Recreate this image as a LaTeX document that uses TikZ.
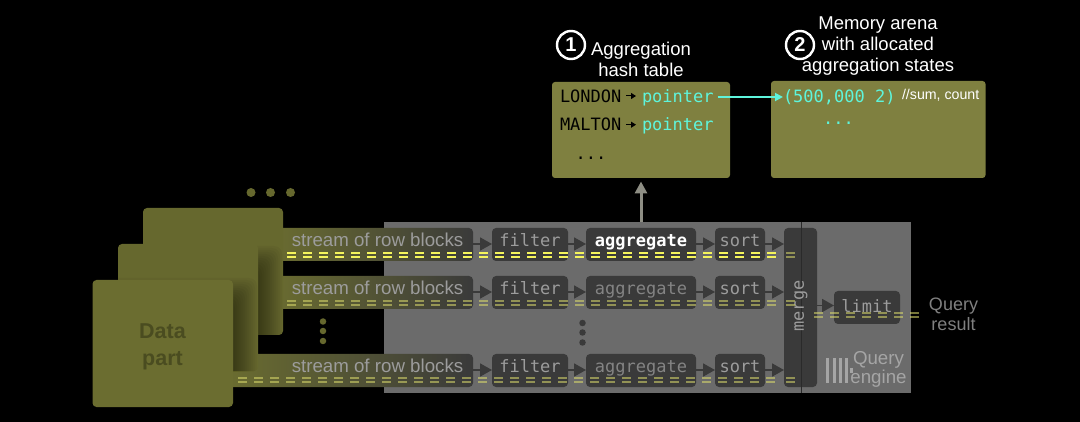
\documentclass[tikz,border=0pt]{standalone}
\usepackage{fontspec}
\setmainfont{Liberation Sans}
\newfontfamily\monof{DejaVu Sans Mono}
\usetikzlibrary{arrows.meta}
\definecolor{olivea}{HTML}{66682E}
\definecolor{oliveb}{HTML}{6B6D30}
\definecolor{olivec}{HTML}{7F8040}
\definecolor{datat}{HTML}{4A4C20}
\definecolor{panelc}{HTML}{6B6B6B}
\definecolor{boxc}{HTML}{3A3A3A}
\definecolor{cyanc}{HTML}{5EF5DC}
\definecolor{dimt}{HTML}{9C9C9C}
\definecolor{dimu}{HTML}{848484}
\definecolor{yelb}{HTML}{F4F45C}
\definecolor{yeld}{HTML}{DCDC6C}
\definecolor{logoc}{HTML}{A5A5A5}
\definecolor{upar}{HTML}{8E8E84}
\definecolor{seamc}{HTML}{2A2A2A}
\newcommand{\fs}[1]{\fontsize{#1}{#1}\selectfont}
\newcommand{\up}[1]{\raisebox{2.5pt}[\height][\depth]{\vphantom{Ag}#1}}
\tikzset{
  every node/.style={inner sep=0pt,outer sep=0pt},
  card/.style={rounded corners=4pt,minimum width=140pt,minimum height=127pt,fill=olivea},
  ycard/.style={rounded corners=3pt,fill=olivec},
  opbox/.style={rounded corners=4pt,fill=boxc,minimum height=33pt,text=dimt,font=\monof\fs{17}},
  band/.style={rounded corners=4pt,minimum height=33pt,left color=oliveb,middle color=boxc!80!olivea,right color=boxc,text=dimt,font=\fs{18.7}},
  flow/.style={draw=boxc,line width=1.8pt,-{Triangle[length=12pt,width=13pt]}},
  dashb/.style={draw=yelb,line width=2pt,dash pattern=on 9pt off 7pt},
  dashd/.style={draw=yeld,opacity=.55,line width=2pt,dash pattern=on 9pt off 7pt},
  head/.style={text=white,font=\fs{18.5},align=center},
  tmono/.style={font=\monof\fs{17}},
  numc/.style={circle,draw=white,line width=2.4pt,minimum size=28pt,text=white,font=\bfseries\fs{20}},
  ptdot/.style={circle,minimum size=9pt,fill=olivea},
  vdot/.style={circle,minimum size=6.5pt,fill=olivea},
  pdot/.style={circle,minimum size=6.5pt,fill=boxc},
  enbar/.style={fill=logoc,minimum width=3pt,minimum height=25pt},
  tinyarrow/.style={draw=black,line width=1pt,-{Triangle[length=5pt,width=6pt]},shorten <=5pt,shorten >=6pt},
  softshade/.style={black,opacity=.04,rounded corners=8pt},
}
\begin{document}
\begin{tikzpicture}[x=1pt,y=-1pt]
\useasboundingbox[fill=black] (0,0) rectangle (1080,422);
% three dots
\node[ptdot] (d1) at (251,192.5) {};
\node[ptdot] (d2) at (270.5,192.5) {};
\node[ptdot] (d3) at (290.5,192.5) {};
% panel
\node[fill=panelc,minimum width=527pt,minimum height=171pt] (panel) at (647.5,307.5) {};
\draw[draw=black!40!panelc,line width=0.5pt] (panel.north) ++(153.5,0) coordinate (lt) -- (lt|-panel.south);
% bands
\node[band,minimum width=203pt] (s1) at (371.5,244.5) {\hspace*{12pt}\up{stream of row blocks}};
\node[band,minimum width=203pt] (s2) at (371.5,292.5) {\hspace*{12pt}\up{stream of row blocks}};
\node[band,minimum width=248pt] (s3) at (349,370.5) {\hspace*{57pt}\up{stream of row blocks}};
% back card
\node[card] (cardc) at (213,271.5) {};
% soft shadow of the middle card on the back card
\begin{scope}
\clip[rounded corners=4pt] (143,208) rectangle (283,335);
\foreach \i in {1,...,12}{
  \fill[softshade] (90,{270-2*\i}) rectangle ({258+2*\i},{375+\i});
}
\end{scope}
% middle card
\node[card] (cardb) at (188,307.5) {};
% soft shadow of the front card on the middle card
\begin{scope}
\clip[rounded corners=4pt] (118,244) rectangle (258,371);
\foreach \i in {1,...,12}{
  \fill[softshade] (65,{302-2*\i}) rectangle ({233+2*\i},{410+\i});
}
\end{scope}
% front card
\node[card,fill=oliveb,minimum width=140.5pt] (carda) at (162.75,343.5) {};
\node[align=center,text=datat,font=\bfseries\fs{21.5}] (datat) at (162.5,346.5) {Data\\[5.5pt]part};
% rows
\foreach \nm/\yy in {a/244.5,b/292.5,c/370.5}{
  \node[opbox,minimum width=76pt] (f\nm) at (530,\yy) {\up{filter}};
  \node[opbox,minimum width=50pt] (o\nm) at (740,\yy) {\up{sort}};
}
\node[opbox,minimum width=110pt,text=white,font=\monof\bfseries\fs{17}] (ga) at (641,244.5) {\up{aggregate}};
\node[opbox,minimum width=110pt,text=dimu] (gb) at (641,292.5) {\up{aggregate}};
\node[opbox,minimum width=110pt,text=dimu] (gc) at (641,370.5) {\up{aggregate}};
\node[rounded corners=4pt,fill=boxc,minimum width=33pt,minimum height=159pt] (merge) at (800.5,307.5) {};
\draw[draw=seamc,line width=0.6pt] (lt) -- (lt|-panel.south);
\node[opbox,minimum width=66pt,minimum height=33pt] (limit) at (867,307.5) {\vphantom{Ag}limit};
\node[rotate=90,text=dimt,font=\monof\fs{17}] (mtxt) at (801,306) {merge};
% flows
\foreach \nm/\yy/\sn in {a/244/s1,b/292/s2,c/370/s3}{
  \draw[flow] (\sn.east|-0,\yy) -- (f\nm.west|-0,\yy);
  \draw[flow] (f\nm.east|-0,\yy) -- (g\nm.west|-0,\yy);
  \draw[flow] (g\nm.east|-0,\yy) -- (o\nm.west|-0,\yy);
  \draw[flow] (o\nm.east|-0,\yy) -- (merge.west|-0,\yy);
}
\draw[flow] (merge.east|-0,305.5) -- (limit.west|-0,305.5);
% dashes
\foreach \yy in {253,257}{
  \draw[dashb] (287,\yy) -- (782,\yy);
  \draw[dashd] (786,\yy) -- (795,\yy);}
\foreach \yy in {301,305}{
  \draw[dashd] (287,\yy) -- (782,\yy);
  \draw[dashd] (786,\yy) -- (795,\yy);}
\foreach \yy in {378,382}{
  \draw[dashd] (238,\yy) -- (782,\yy);
  \draw[dashd] (786,\yy) -- (795,\yy);}
\foreach \yy in {313,317}{\draw[dashd] (merge.east|-0,\yy) ++(-3,0) -- (921,\yy);}
% vertical dots
\node[vdot] (v1) at (323,321.5) {};
\node[vdot] (v2) at (323,331) {};
\node[vdot] (v3) at (323,341) {};
\node[pdot] (p1) at (582.5,323) {};
\node[pdot] (p2) at (582.5,332.5) {};
\node[pdot] (p3) at (582.5,342.5) {};
% engine logo
\node[enbar] (b1) at (827.5,370.5) {};
\node[enbar] (b2) at (834,370.5) {};
\node[enbar] (b3) at (840.5,370.5) {};
\node[enbar] (b4) at (846.5,370.5) {};
\node[enbar,minimum height=5pt] (b5) at (851.5,370.5) {};
\node[text=logoc,font=\fs{18.7}] (qe1) at (878.5,360) {Query};
\node[text=logoc,font=\fs{18.7}] (qe2) at (878.5,378.5) {engine};
% result
\node[text=black!50!white,align=center,font=\fs{18}] (res) at (953.5,314) {Query\\[2pt]result};
% top cards
\node[ycard,minimum width=178pt,minimum height=96pt] (hash) at (641,130) {};
\node[ycard,minimum width=214.5pt,minimum height=97pt] (arena) at (878.25,129.5) {};
\draw[draw=upar,line width=3pt,-{Triangle[length=12pt,width=12pt]}] (ga.north|-panel.north) -- (ga.north|-0,181.5);
% heads
\node[numc] (n1) at (571,45) {1};
\node[numc] (n2) at (800,45) {2};
\node[head] (h1) at (641,59.5) {Aggregation\\[2.5pt]hash table};
\node[head] (h2) at (878,46) {Memory arena\\[2.5pt]with allocated\\[2.5pt]aggregation states};
% table text
\node[tmono,text=black,anchor=west] (lon) at (560,98) {\vphantom{Ag}LONDON};
\node[tmono,text=black,anchor=west] (mal) at (560,126) {\vphantom{Ag}MALTON};
\node[tmono,text=cyanc,anchor=west] (p1t) at (642,98) {\vphantom{Ag}pointer};
\node[tmono,text=cyanc,anchor=west] (p2t) at (642,126) {\vphantom{Ag}pointer};
\node[tmono,text=black] (hd) at (591,158) {...};
\draw[tinyarrow] (lon.east|-0,96) -- (p1t.west|-0,96);
\draw[tinyarrow] (mal.east|-0,124.7) -- (p2t.west|-0,124.7);
\node[tmono,text=cyanc,anchor=west] (val) at (783,97) {(500,000 2)};
\node[text=white,anchor=west,font=\fs{14.2}] (cmt) at (902,95.5) {//sum, count};
\node[tmono,text=cyanc] (ad) at (838.5,123) {...};
\draw[draw=cyanc,line width=1.8pt,-{Triangle[length=8pt,width=8pt]}] (p1t.east|-val.west) ++(4,0) -- (val.west);
\end{tikzpicture}
\end{document}
